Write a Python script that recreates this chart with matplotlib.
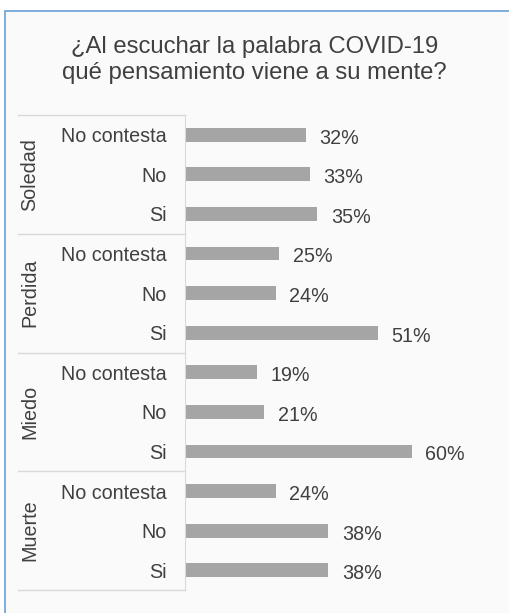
import matplotlib.pyplot as plt
from matplotlib.patches import Rectangle

# Datos
grupos = ["Soledad", "Perdida", "Miedo", "Muerte"]
respuestas = ["No contesta", "No", "Si"]
valores = {
    "Soledad": [32, 33, 35],
    "Perdida": [25, 24, 51],
    "Miedo": [19, 21, 60],
    "Muerte": [24, 38, 38],
}

plt.rcParams["font.family"] = ["Liberation Sans", "DejaVu Sans"]
texto = "#404040"
gris_barra = "#a5a5a5"
linea = "#d9d9d9"

W, H = 509, 613
fig = plt.figure(figsize=(W / 100, H / 100), dpi=100)
fig.patch.set_facecolor("white")

# marco del gráfico (recortado a la derecha y abajo)
fig.patches.append(Rectangle((5 / W, -0.05), 1.2, (H - 11) / H + 0.05,
                             transform=fig.transFigure, facecolor="#fafafa",
                             edgecolor="#6a9fd4", linewidth=1.2, zorder=-10))

fig.text(0.5, 1 - 60 / H, "¿Al escuchar la palabra COVID-19\nqué pensamiento viene a su mente?",
         ha="center", va="center", fontsize=17.2, color=texto, linespacing=1.25)

x0, x1 = 185, 487
ax = fig.add_axes([x0 / W, 1 - 590 / H, (x1 - x0) / W, 475 / H])
ax.set_facecolor("none")

etiquetas = []
vals = []
for g in grupos:
    for r, v in zip(respuestas, valores[g]):
        etiquetas.append(r)
        vals.append(v)
pos = list(range(len(vals)))

ax.barh(pos, vals, height=0.35, color=gris_barra)
ax.set_ylim(len(vals) - 0.5, -0.5)
ax.set_xlim(0, 80)

for p, v in zip(pos, vals):
    ax.annotate(f"{v}%", (v, p), xytext=(10, -1), textcoords="offset points",
                va="center_baseline", ha="left", fontsize=14.2, color=texto)

ax.set_yticks(pos)
ax.set_yticklabels(etiquetas, fontsize=14.2, color=texto)
ax.tick_params(axis="y", length=0, pad=13)
ax.set_xticks([])
for lado in ["top", "right", "bottom"]:
    ax.spines[lado].set_visible(False)
ax.spines["left"].set_color(linea)

# separadores entre grupos y nombres de grupo
tr = ax.get_yaxis_transform()
xs = (18 - x0) / (x1 - x0)
for i, g in enumerate(grupos):
    y = 3 * i - 0.5
    ax.plot([xs, 0], [y, y], transform=tr, color=linea, lw=1, clip_on=False)
    ax.text((30 - x0) / (x1 - x0), 3 * i + 1, g, transform=tr, rotation=90,
            ha="center", va="center", fontsize=14.2, color=texto)
ax.plot([xs, 0], [len(vals) - 0.5] * 2, transform=tr, color=linea, lw=1, clip_on=False)

fig.savefig("out.png", dpi=100)
